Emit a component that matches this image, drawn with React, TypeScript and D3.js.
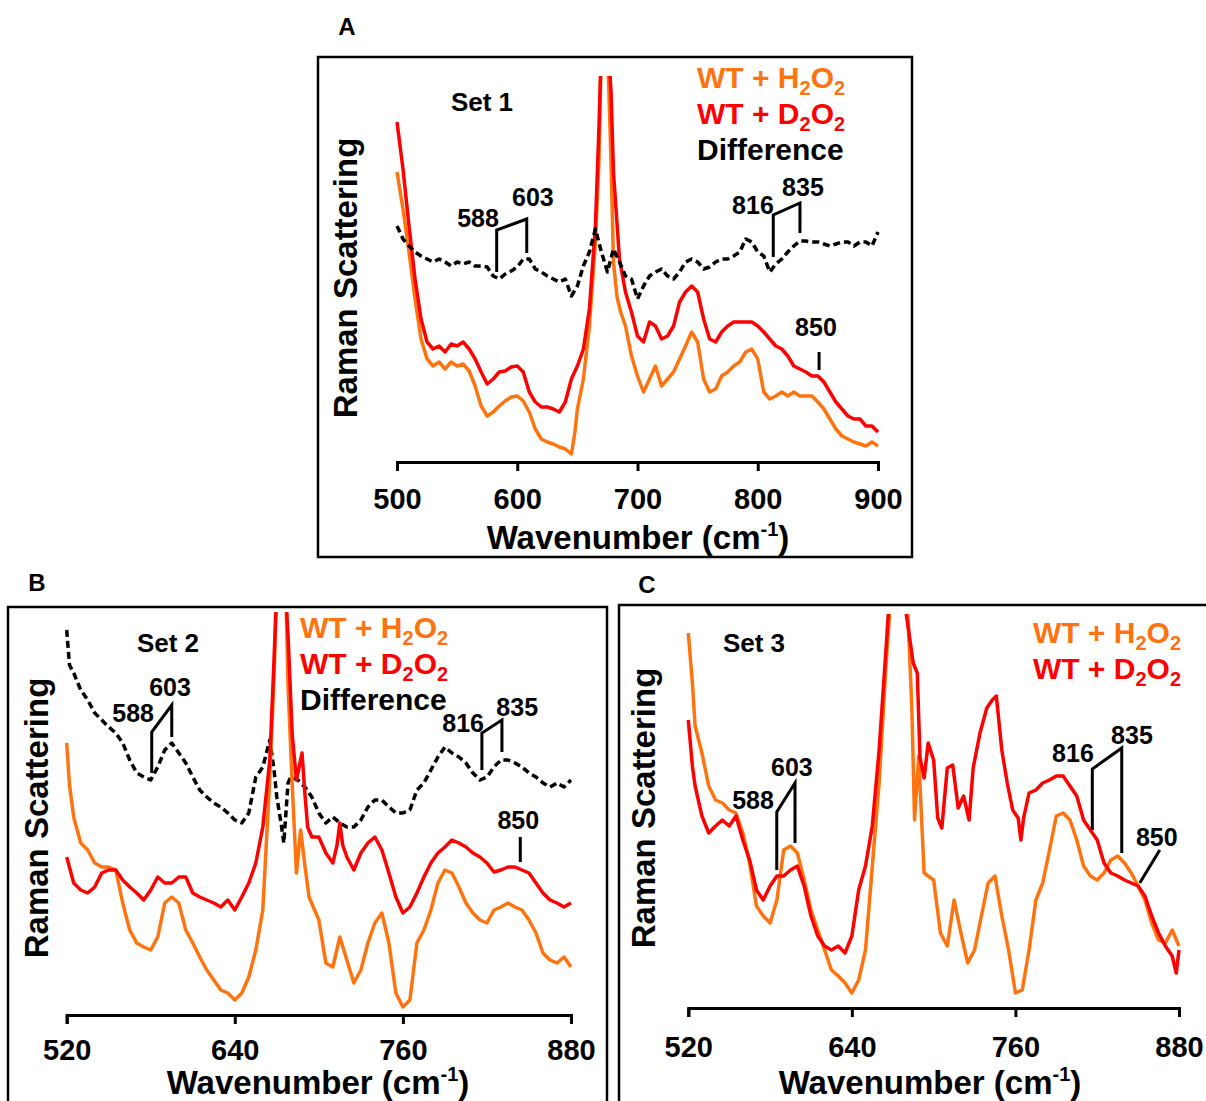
import * as d3 from 'd3';
import React, { useEffect, useRef } from 'react';

type Pt = [number, number];

// Raman spectra: [wavenumber (cm-1), intensity (a.u.)]
// Set 1
const set1H2O2: Pt[] = [
  [500, 290], [505, 253], [510, 210], [515, 163], [520, 123], [525, 103], [530, 96], [535, 100], [540, 93],
  [545, 100], [550, 96], [555, 98], [560, 91], [565, 76], [570, 56], [575, 46], [580, 50], [585, 56], [590, 61],
  [595, 65], [600, 66], [605, 61], [610, 50], [615, 33], [620, 23], [625, 20], [630, 18], [635, 15], [640, 13],
  [645, 8], [648, 30], [650, 53], [655, 83], [660, 136], [665, 220], [668, 303], [670, 420], [673, 430],
  [676, 380], [678, 300], [680, 200], [683, 165], [686, 150], [690, 136], [695, 106], [700, 86], [705, 70],
  [710, 83], [715, 96], [720, 76], [725, 83], [730, 90], [735, 103], [740, 116], [745, 130], [750, 120],
  [755, 83], [760, 70], [765, 73], [770, 86], [775, 90], [780, 96], [785, 100], [790, 110], [795, 113],
  [800, 103], [805, 70], [810, 63], [815, 66], [820, 70], [825, 66], [830, 70], [835, 66], [840, 66],
  [845, 66], [850, 60], [855, 53], [860, 43], [865, 33], [870, 26], [875, 23], [880, 20], [885, 18],
  [890, 16], [895, 20], [900, 16],
];
const set1D2O2: Pt[] = [
  [500, 340], [505, 293], [510, 236], [515, 183], [520, 143], [525, 120], [530, 113], [535, 116], [540, 110],
  [545, 118], [550, 116], [555, 120], [560, 113], [565, 103], [570, 90], [575, 78], [580, 83], [585, 90],
  [590, 91], [595, 95], [600, 96], [605, 90], [610, 70], [615, 60], [620, 55], [625, 55], [630, 53],
  [635, 50], [640, 60], [645, 83], [650, 96], [655, 113], [660, 153], [665, 236], [668, 336], [670, 420],
  [675, 430], [678, 370], [680, 290], [685, 203], [690, 170], [695, 150], [700, 126], [705, 120], [710, 140],
  [715, 136], [720, 123], [725, 126], [730, 136], [735, 160], [740, 170], [745, 176], [750, 170], [755, 143],
  [760, 123], [765, 120], [770, 130], [775, 136], [780, 140], [785, 140], [790, 140], [795, 140], [800, 136],
  [805, 130], [810, 123], [815, 116], [820, 113], [825, 106], [830, 96], [835, 93], [840, 90], [845, 86],
  [850, 86], [855, 80], [860, 70], [865, 60], [870, 53], [875, 46], [880, 43], [885, 43], [890, 36],
  [895, 36], [900, 30],
];
const set1Diff: Pt[] = [
  [500, 236], [505, 223], [510, 216], [515, 210], [520, 206], [525, 203], [530, 200], [535, 203], [540, 200],
  [545, 196], [550, 200], [555, 198], [560, 200], [565, 196], [570, 196], [575, 195], [580, 186], [585, 183],
  [590, 188], [595, 191], [600, 195], [605, 203], [610, 203], [615, 193], [620, 190], [625, 186], [630, 183],
  [635, 180], [640, 183], [645, 166], [650, 176], [655, 196], [660, 210], [665, 233], [670, 210], [675, 190],
  [680, 213], [685, 200], [690, 186], [695, 183], [700, 163], [705, 176], [710, 186], [715, 190], [720, 193],
  [725, 186], [730, 183], [735, 190], [740, 200], [745, 203], [750, 200], [755, 193], [760, 195], [765, 200],
  [770, 203], [775, 203], [780, 206], [785, 210], [790, 223], [795, 220], [800, 210], [805, 206], [810, 190],
  [815, 198], [820, 203], [825, 210], [830, 216], [835, 221], [840, 221], [845, 220], [850, 220], [855, 218],
  [860, 216], [865, 218], [870, 220], [875, 220], [880, 216], [885, 220], [890, 220], [895, 216], [900, 230],
];

// Set 2
const set2H2O2: Pt[] = [
  [520, 272], [522, 230], [525, 198], [530, 172], [535, 165], [540, 152], [545, 148], [550, 148], [555, 145],
  [560, 112], [565, 85], [570, 72], [575, 68], [580, 65], [585, 78], [590, 112], [595, 118], [600, 112],
  [605, 85], [610, 72], [615, 58], [620, 45], [625, 35], [630, 25], [635, 22], [640, 15], [645, 22], [650, 38],
  [655, 65], [660, 105], [665, 238], [668, 338], [670, 430], [676, 450], [678, 330], [681, 230], [684, 142],
  [687, 185], [690, 150], [693, 118], [700, 95], [705, 52], [710, 48], [715, 78], [720, 55], [725, 32],
  [730, 45], [735, 72], [740, 92], [745, 102], [750, 72], [755, 22], [760, 8], [765, 15], [770, 72], [775, 85],
  [780, 105], [785, 132], [790, 145], [795, 142], [800, 128], [805, 112], [810, 102], [815, 95], [820, 92],
  [825, 105], [830, 108], [835, 112], [840, 108], [845, 105], [850, 95], [855, 82], [860, 62], [865, 55],
  [870, 52], [875, 58], [880, 48],
];
const set2D2O2: Pt[] = [
  [520, 158], [525, 132], [530, 125], [535, 122], [540, 128], [545, 142], [550, 145], [555, 145], [560, 135],
  [565, 128], [570, 122], [575, 115], [580, 125], [585, 138], [590, 132], [595, 132], [600, 138], [605, 138],
  [610, 122], [615, 118], [620, 115], [625, 112], [630, 108], [635, 115], [640, 105], [645, 118], [650, 132],
  [655, 152], [660, 188], [665, 255], [668, 355], [670, 430], [676, 430], [678, 380], [681, 280], [684, 235],
  [688, 262], [690, 222], [692, 188], [695, 178], [700, 178], [705, 162], [710, 152], [713, 170], [715, 192],
  [717, 170], [720, 158], [725, 145], [730, 162], [735, 172], [740, 178], [745, 165], [750, 142], [755, 118],
  [760, 102], [765, 108], [770, 122], [775, 138], [780, 152], [785, 162], [790, 168], [795, 175], [800, 172],
  [805, 168], [810, 162], [815, 158], [820, 152], [825, 143], [830, 145], [835, 148], [840, 148], [845, 145],
  [850, 142], [855, 132], [860, 122], [865, 115], [870, 112], [875, 108], [880, 112],
];
const set2Diff: Pt[] = [
  [520, 385], [522, 350], [525, 342], [530, 325], [535, 315], [540, 302], [545, 295], [550, 288], [555, 282],
  [560, 272], [565, 255], [570, 242], [575, 238], [580, 235], [585, 248], [590, 265], [595, 272], [600, 262],
  [605, 252], [610, 238], [615, 225], [620, 218], [625, 212], [630, 208], [635, 202], [640, 195], [645, 192],
  [650, 202], [655, 238], [660, 248], [665, 275], [668, 245], [670, 218], [673, 192], [675, 172], [678, 232],
  [680, 238], [685, 235], [690, 228], [695, 218], [700, 202], [705, 192], [710, 198], [715, 192], [720, 188],
  [725, 188], [730, 195], [735, 208], [740, 215], [745, 215], [750, 208], [755, 202], [760, 202], [765, 205],
  [770, 225], [775, 232], [780, 245], [785, 258], [790, 268], [795, 262], [800, 258], [805, 252], [810, 242],
  [815, 235], [820, 238], [825, 248], [830, 255], [835, 255], [840, 252], [845, 248], [850, 242], [855, 238],
  [860, 232], [865, 228], [870, 232], [875, 228], [880, 235],
];

// Set 3
const set3H2O2: Pt[] = [
  [520, 375], [523, 325], [525, 282], [530, 255], [535, 222], [540, 208], [545, 205], [550, 198], [555, 195],
  [560, 175], [565, 145], [570, 102], [575, 92], [580, 85], [585, 108], [590, 158], [595, 162], [600, 155],
  [605, 128], [610, 98], [615, 78], [620, 58], [625, 38], [630, 32], [635, 25], [640, 15], [645, 28], [650, 58],
  [655, 142], [660, 225], [665, 342], [668, 400], [672, 440], [680, 430], [684, 300], [686, 188], [689, 252],
  [693, 135], [700, 128], [705, 75], [710, 62], [715, 108], [720, 75], [725, 45], [730, 58], [735, 92],
  [740, 125], [745, 132], [750, 92], [755, 58], [760, 15], [765, 18], [770, 58], [775, 108], [780, 125],
  [785, 158], [790, 192], [795, 195], [800, 188], [805, 168], [810, 142], [815, 132], [820, 128], [825, 135],
  [830, 148], [835, 152], [840, 145], [845, 135], [850, 122], [855, 108], [860, 85], [865, 68], [870, 65],
  [875, 78], [880, 62],
];
const set3D2O2: Pt[] = [
  [520, 288], [523, 242], [525, 222], [530, 192], [535, 175], [540, 182], [545, 188], [550, 182], [555, 192],
  [560, 168], [565, 148], [570, 118], [575, 108], [580, 122], [585, 132], [590, 132], [595, 138], [600, 142],
  [605, 122], [610, 92], [615, 72], [620, 62], [625, 58], [630, 62], [635, 55], [640, 72], [645, 118],
  [650, 142], [655, 182], [660, 258], [665, 358], [667, 400], [670, 430], [678, 430], [680, 393], [685, 345],
  [688, 335], [690, 250], [693, 230], [696, 265], [700, 248], [703, 190], [706, 180], [710, 240], [714, 243],
  [718, 200], [722, 212], [726, 188], [729, 240], [734, 275], [739, 300], [743, 308], [746, 312], [750, 258],
  [754, 225], [758, 198], [762, 190], [764, 168], [766, 190], [770, 215], [775, 218], [780, 225], [785, 228],
  [790, 232], [795, 232], [800, 222], [805, 212], [810, 188], [815, 178], [820, 168], [825, 145], [830, 135],
  [835, 132], [840, 128], [845, 125], [850, 122], [855, 112], [860, 92], [865, 75], [870, 62], [875, 52],
  [878, 35], [880, 58],
];

const ticksSet1 = [500, 600, 700, 800, 900];
const ticksSet23 = [520, 640, 760, 880];

// band markers: polylines in [cm-1, intensity]
const marksSet1: Pt[][] = [
  [[582.9, 190], [582.9, 232], [607.9, 243], [607.9, 209]],
  [[812.9, 205], [812.9, 247], [835.1, 259], [835.1, 229]],
  [[851, 110], [851, 92]],
];
const marksSet2: Pt[][] = [
  [[580.7, 242], [580.7, 283], [595, 310], [595, 278]],
  [[816.4, 245], [816.4, 282], [830.7, 295], [830.7, 263]],
  [[843.8, 178], [843.8, 153]],
];
const marksSet3: Pt[][] = [
  [[584.9, 138], [584.9, 196], [598.3, 225], [598.3, 165]],
  [[816.4, 178], [816.4, 239], [838, 260], [838, 155]],
  [[851.2, 125], [865.9, 158]],
];
const bandLabelsSet1 = [
  { text: '588', cm: 567.4, v: 244 }, { text: '603', cm: 613, v: 265 },
  { text: '816', cm: 796, v: 257 }, { text: '835', cm: 837.6, v: 275 }, { text: '850', cm: 848.4, v: 135 },
];
const bandLabelsSet2 = [
  { text: '588', cm: 567.4, v: 302 }, { text: '603', cm: 593.8, v: 328 },
  { text: '816', cm: 803, v: 292 }, { text: '835', cm: 841.6, v: 308 }, { text: '850', cm: 842.4, v: 195 },
];
const bandLabelsSet3 = [
  { text: '588', cm: 567.5, v: 208 }, { text: '603', cm: 596, v: 241 },
  { text: '816', cm: 802.2, v: 255 }, { text: '835', cm: 845.5, v: 273 }, { text: '850', cm: 863.7, v: 171 },
];

const ORANGE = '#FF7410';
const RED = '#FF0000';
const FONT = "'Liberation Sans', Arial, Helvetica, sans-serif";

function XAxis({ x, ticks, y, pad }: any) {
  const ref = useRef<SVGGElement>(null);
  useEffect(() => {
    const g = d3.select(ref.current as SVGGElement);
    g.call(d3.axisBottom(x).tickValues(ticks).tickSize(9).tickPadding(pad).tickFormat(d3.format('d')) as any);
    g.select('.domain').attr('stroke-width', 3);
    g.selectAll('.tick line').attr('stroke-width', 3);
    g.selectAll('.tick text')
      .attr('font-size', 29)
      .attr('font-weight', 'bold')
      .attr('font-family', FONT)
      .attr('fill', '#000');
  }, [x, ticks, pad]);
  return <g ref={ref} transform={`translate(0,${y})`} />;
}

function Peroxide({ x, y, iso, color, anchor }: any) {
  return (
    <text x={x} y={y} fill={color} fontSize={30} fontWeight="bold" fontFamily={FONT} textAnchor={anchor}>
      WT + {iso}<tspan dy={7} fontSize={20}>2</tspan><tspan dy={-7}>O</tspan><tspan dy={7} fontSize={20}>2</tspan>
    </text>
  );
}

function Panel({ cfg }: any) {
  const x = d3.scaleLinear().domain(cfg.domain).range([cfg.x0, cfg.x1]);
  const y = d3.scaleLinear().domain([0, 400]).range([cfg.axisY, cfg.axisY - 400]);
  const line = d3.line<Pt>().x(d => x(d[0])).y(d => y(d[1]));
  const clipId = `clip-${cfg.id}`;
  const [lx, ly] = cfg.legend.pos;
  return (
    <g>
      <rect x={cfg.box[0]} y={cfg.box[1]} width={cfg.box[2]} height={cfg.box[3]} fill="none" stroke="#000" strokeWidth={2.5} />
      <text x={cfg.letter[0]} y={cfg.letter[1]} fontSize={24} fontWeight="bold" fontFamily={FONT} textAnchor="middle">{cfg.id}</text>
      <clipPath id={clipId}>
        <rect x={cfg.x0 - 6} y={cfg.clipTop} width={cfg.x1 - cfg.x0 + 12} height={cfg.axisY - cfg.clipTop + 4} />
      </clipPath>
      <g clipPath={`url(#${clipId})`} fill="none" strokeLinejoin="round">
        {cfg.series.map((s: any, i: number) => (
          <path key={i} d={line(s.data) || ''} stroke={s.color} strokeWidth={3.5}
            strokeDasharray={s.dashed ? '7 4' : undefined} />
        ))}
      </g>
      {cfg.marks.map((m: Pt[], i: number) => (
        <path key={i} d={line(m) || ''} fill="none" stroke="#000" strokeWidth={3} />
      ))}
      {cfg.bandLabels.map((b: any) => (
        <text key={b.text} x={x(b.cm)} y={y(b.v) + 9} fontSize={25} fontWeight="bold" fontFamily={FONT} textAnchor="middle">{b.text}</text>
      ))}
      <text x={cfg.setLabel[0]} y={cfg.setLabel[1]} fontSize={26} fontWeight="bold" fontFamily={FONT} textAnchor="middle">{cfg.setLabel[2]}</text>
      <Peroxide x={lx} y={ly} iso="H" color={ORANGE} anchor={cfg.legend.anchor} />
      <Peroxide x={lx} y={ly + 36} iso="D" color={RED} anchor={cfg.legend.anchor} />
      {cfg.legend.diff && (
        <text x={lx} y={ly + 72} fontSize={30} fontWeight="bold" fontFamily={FONT} textAnchor={cfg.legend.anchor}>Difference</text>
      )}
      <XAxis x={x} ticks={cfg.ticks} y={cfg.axisY} pad={cfg.tickPad} />
      <text x={cfg.xTitle[0]} y={cfg.xTitle[1]} fontSize={33} fontWeight="bold" fontFamily={FONT} textAnchor="middle">
        Wavenumber (cm<tspan dy={-13} fontSize={20}>-1</tspan><tspan dy={13}>)</tspan>
      </text>
      <text transform={`translate(${cfg.yLabel[0]},${cfg.yLabel[1]}) rotate(-90)`} dy="0.35em" fontSize={33}
        fontWeight="bold" fontFamily={FONT} textAnchor="middle">Raman Scattering</text>
    </g>
  );
}

const panels = [
  {
    id: 'A', box: [318, 57, 594, 500], letter: [347, 35], domain: [500, 900], x0: 397, x1: 878, axisY: 462,
    clipTop: 76, tickPad: 17, ticks: ticksSet1,
    series: [
      { data: set1H2O2, color: ORANGE },
      { data: set1D2O2, color: RED },
      { data: set1Diff, color: '#000', dashed: true },
    ],
    marks: marksSet1, bandLabels: bandLabelsSet1, setLabel: [482, 111, 'Set 1'],
    legend: { pos: [697, 88], anchor: 'start', diff: true }, xTitle: [638, 549], yLabel: [345, 278],
  },
  {
    id: 'B', box: [8, 607, 599, 520], letter: [37, 591], domain: [520, 880], x0: 66.7, x1: 571, axisY: 1015,
    clipTop: 612, tickPad: 15, ticks: ticksSet23,
    series: [
      { data: set2Diff, color: '#000', dashed: true },
      { data: set2H2O2, color: ORANGE },
      { data: set2D2O2, color: RED },
    ],
    marks: marksSet2, bandLabels: bandLabelsSet2, setLabel: [168, 652, 'Set 2'],
    legend: { pos: [300, 638], anchor: 'start', diff: true }, xTitle: [318, 1094], yLabel: [36, 818],
  },
  {
    id: 'C', box: [619, 605, 600, 520], letter: [647, 593], domain: [520, 880], x0: 688.3, x1: 1179, axisY: 1008,
    clipTop: 614, tickPad: 19, ticks: ticksSet23,
    series: [
      { data: set3H2O2, color: ORANGE },
      { data: set3D2O2, color: RED },
    ],
    marks: marksSet3, bandLabels: bandLabelsSet3, setLabel: [754, 652, 'Set 3'],
    legend: { pos: [1181, 643], anchor: 'end', diff: false }, xTitle: [930, 1094], yLabel: [643, 808],
  },
];

export default function App() {
  return (
    <svg width={1206} height={1101} style={{ position: 'absolute', left: 0, top: 0, background: '#fff' }}>
      {panels.map(p => <Panel key={p.id} cfg={p} />)}
    </svg>
  );
}
